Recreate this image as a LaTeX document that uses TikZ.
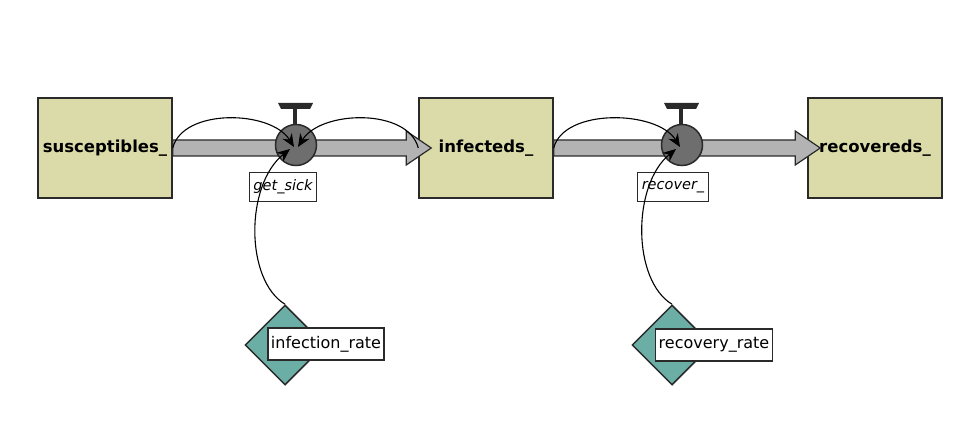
\documentclass[tikz,border=0pt]{standalone}
\usepackage{fontspec}
\setmainfont{DejaVu Sans}
\usetikzlibrary{arrows.meta,calc,shapes.geometric}
\definecolor{stockfill}{HTML}{DBDBA9}
\definecolor{convfill}{HTML}{6BAEA6}
\definecolor{pipefill}{HTML}{B3B3B3}
\definecolor{valvefill}{HTML}{6E6E6E}
\definecolor{edge}{HTML}{2A2A2A}
\tikzset{
	stock/.style={draw=edge,line width=1.5pt,fill=stockfill,minimum width=134pt,minimum height=100pt,inner sep=0pt,font=\fontsize{16.5}{19}\selectfont\bfseries},
	valve/.style={circle,draw=edge,line width=1.5pt,fill=valvefill,minimum size=41pt,inner sep=0pt},
	flowlabel/.style={draw=edge,fill=white,line width=1.2pt,minimum height=29pt,inner sep=4pt,font=\fontsize{14.5}{17}\selectfont\itshape},
	converter/.style={diamond,draw=edge,line width=1.5pt,fill=convfill,minimum width=80pt,minimum height=80pt,inner sep=0pt},
	convlabel/.style={draw=edge,fill=white,line width=1.2pt,minimum height=32pt,inner sep=3pt,font=\fontsize{16}{18}\selectfont},
	pipe/.style={draw=edge,line width=1.2pt,fill=pipefill},
	link/.style={draw=black,line width=1.1pt,-{Stealth[length=13pt,width=11pt]}}
}
\begin{document}
\begin{tikzpicture}[x=1pt,y=-1pt]
	\useasboundingbox[fill=white] (0,0) rectangle (975,422);
	% stocks
	\node[stock] (sus) at (105,148) {susceptibles\_};
	\node[stock] (inf) at (486,148) {infecteds\_};
	\node[stock] (rec) at (875,148) {recovereds\_};
	% flow pipes
	\coordinate (tip1) at ($(inf.west)+(13,0)$);
	\coordinate (tip2) at ($(rec.west)+(13,0)$);
	\draw[pipe] ($(sus.east)+(0,-8)$) -- ($(tip1)+(-25,-8)$) -- ($(tip1)+(-25,-17)$) -- (tip1)
		-- ($(tip1)+(-25,17)$) -- ($(tip1)+(-25,8)$) -- ($(sus.east)+(0,8)$) -- cycle;
	\draw[pipe] ($(inf.east)+(0,-8)$) -- ($(tip2)+(-25,-8)$) -- ($(tip2)+(-25,-17)$) -- (tip2)
		-- ($(tip2)+(-25,17)$) -- ($(tip2)+(-25,8)$) -- ($(inf.east)+(0,8)$) -- cycle;
	% valves
	\foreach \v/\x in {v1/296,v2/682}{
		\draw[edge,line width=3.5pt] (\x-1,108) -- (\x-1,126);
		\fill[edge] (\x-18,103) -- (\x+17,103) -- (\x+14,109) -- (\x-15,109) -- cycle;
		\node[valve] (\v) at (\x,145) {};
	}
	\node[flowlabel] (sick) at (283,187) {get\_sick};
	\node[flowlabel] (recov) at (673,187) {recover\_};
	% converters
	\node[converter] (ir) at (285,345) {};
	\node[convlabel] at (326,344) {infection\_rate};
	\node[converter] (rr) at (672,345) {};
	\node[convlabel] at (714,345) {recovery\_rate};
	% links
	\draw[link] (sus.east) .. controls +(10,-40) and +(-23,-37) .. ($(v1.center)+(-2,2)$);
	\draw[link] (inf.west) .. controls +(-10,-40) and +(23,-37) .. ($(v1.center)+(2,2)$);
	\draw[link] (inf.east) .. controls +(10,-40) and +(-23,-37) .. ($(v2.center)+(-2,2)$);
	\draw[link] (ir.north) .. controls (245,280) and (245,185) .. ($(v1.center)+(-6,4)$);
	\draw[link] (rr.north) .. controls (632,280) and (632,185) .. ($(v2.center)+(-6,4)$);
\end{tikzpicture}
\end{document}
